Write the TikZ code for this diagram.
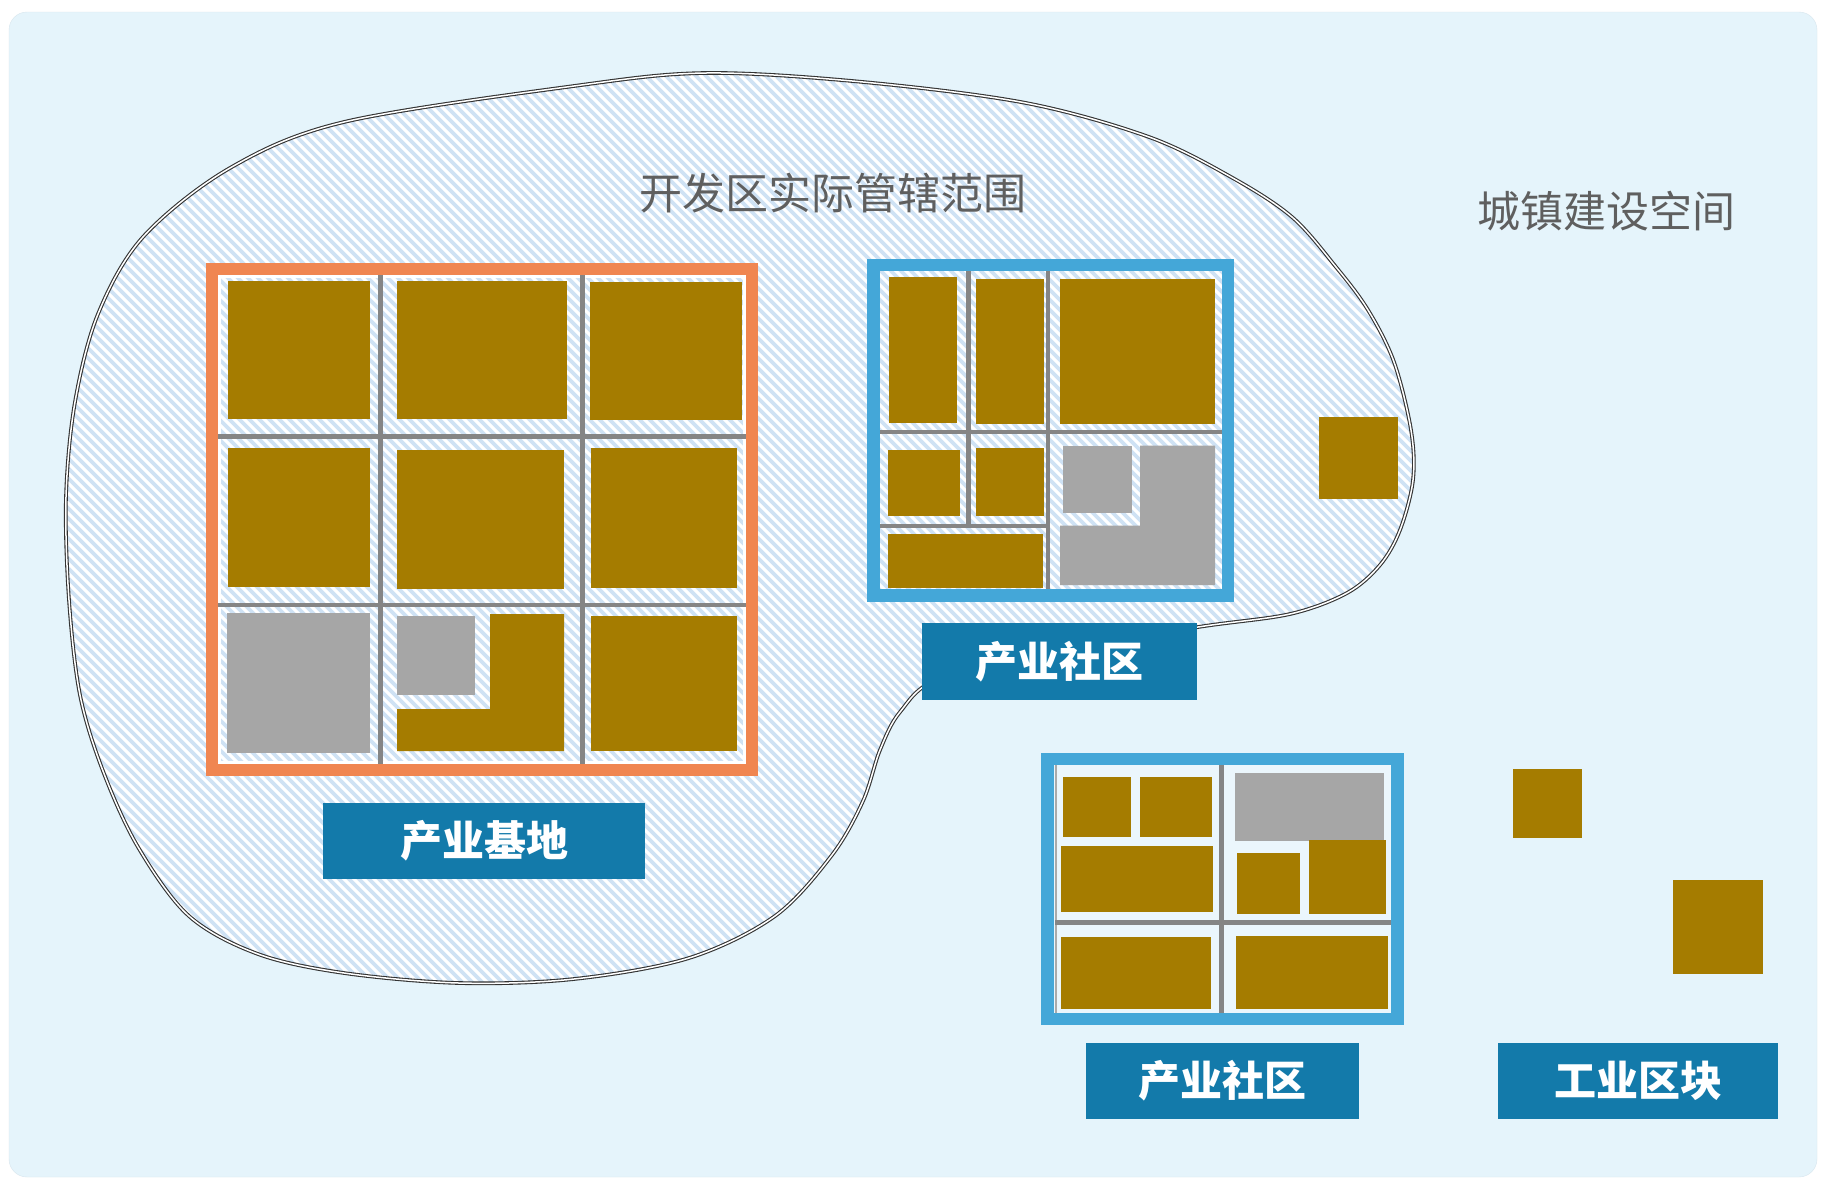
\documentclass[tikz,border=0pt]{standalone}
\usepackage{fontspec}
\newfontfamily\cjk{Noto Sans CJK SC}
\definecolor{bgc}{HTML}{E5F4FB}
\definecolor{bgedge}{HTML}{D8E6EE}
\definecolor{goldc}{HTML}{A57C00}
\definecolor{grayc}{HTML}{A6A6A6}
\definecolor{roadc}{HTML}{858585}
\definecolor{lblc}{HTML}{137AAA}
\definecolor{bluec}{HTML}{44A7D8}
\definecolor{orangec}{HTML}{F08651}
\definecolor{hatchc}{HTML}{CFE2F4}
\definecolor{ttlc}{HTML}{5F5F5F}
\definecolor{linec}{HTML}{333333}
\definecolor{in2c}{HTML}{EBF6FC}
\newcommand\blobpath{plot[smooth cycle, tension=0.55] coordinates {(706,73) (863,82) (1026,103) (1149,137) (1231,177) (1292,217) (1336,267) (1368,310) (1394,362) (1411,430) (1413,480) (1400,530) (1380,565) (1347,593) (1290,614) (1198,627) (1060,650) (940,678) (900,712) (880,750) (863,801) (832,855) (775,916) (689,958) (574,979) (459,983) (344,973) (258,954) (189,916) (138,847) (103,771) (80,695) (69,600) (66,497) (75,402) (98,314) (143,237) (230,168) (344,122) (574,86)}}
\begin{document}
\begin{tikzpicture}[x=1pt,y=-1pt,
  gold/.style={fill=goldc},
  grayb/.style={fill=grayc},
  road/.style={draw=roadc, line width=4.5pt},
  frameo/.style={draw=orangec, line width=12.5pt},
  frameb/.style={draw=bluec, line width=12.5pt},
  lbl/.style={fill=lblc, text=white, font=\cjk\bfseries\fontsize{42}{48}\selectfont, inner sep=0pt},
  ttl/.style={text=ttlc, font=\cjk\fontsize{43}{50}\selectfont, inner sep=0pt},
  outline/.style={draw=linec, line width=1.1pt, double=white, double distance=1.5pt}]
\useasboundingbox (0,0) rectangle (1821,1179);
\fill[white] (0,0) rectangle (1821,1179);
\draw[draw=bgedge, fill=bgc, rounded corners=18pt] (9,12) rectangle (1817,1177);
% development zone area
\fill[white] \blobpath;
\begin{scope}
  \clip \blobpath;
  \foreach \k in {-950,-940,...,1430} {\draw[hatchc, line width=3.8pt] (\k,50) -- ++(1000,1000);}
\end{scope}
\draw[outline] \blobpath;
% ---------- industrial base (orange) ----------
\draw[white, line width=3pt] (219.5,276.5) rectangle (744.5,762.5);
\draw[road] (380.6,275) -- (380.6,764);
\draw[road] (582.7,275) -- (582.7,764);
\draw[road] (218,436.3) -- (746,436.3);
\draw[road] (218,605) -- (746,605);
\fill[gold] (228,280.5) rectangle (370,419);
\fill[gold] (397,280.5) rectangle (567,419);
\fill[gold] (590,282) rectangle (742,420);
\fill[gold] (228,448) rectangle (370,587);
\fill[gold] (397,450) rectangle (564,589);
\fill[gold] (591,448) rectangle (737,588);
\fill[grayb] (227,612.5) rectangle (370,752.6);
\fill[grayb] (397,615.5) rectangle (475,695);
\fill[gold] (490,614) -- (564,614) -- (564,751) -- (397,751) -- (397,709) -- (490,709) -- cycle;
\fill[gold] (591,615.5) rectangle (737,751);
\draw[frameo] (211.75,268.75) rectangle (751.75,769.75);
% ---------- industrial community 1 ----------
\draw[road] (968.6,270) -- (968.6,526);
\draw[road] (1048,270) -- (1048,589);
\draw[road] (880,432) -- (1222,432);
\draw[road] (880,526) -- (1048,526);
\fill[gold] (889,277) rectangle (957,423);
\fill[gold] (976,278.6) rectangle (1044,423.8);
\fill[gold] (1060,278.6) rectangle (1215,423.8);
\fill[gold] (888,450) rectangle (960,516);
\fill[gold] (976,448) rectangle (1044,516);
\fill[gold] (888,534) rectangle (1043,588);
\fill[grayb] (1063,445.5) rectangle (1132,513);
\fill[grayb] (1140,445.5) -- (1215,445.5) -- (1215,585) -- (1060,585) -- (1060,525.5) -- (1140,525.5) -- cycle;
\draw[frameb] (873.25,264.85) rectangle (1227.75,595.35);
\fill[gold] (1319,417) rectangle (1398,499);
% ---------- industrial community 2 ----------
\fill[in2c] (1054,765) rectangle (1391,1013);
\draw[roadc!70, line width=2pt] (1055.5,765) -- (1055.5,1013);
\draw[road] (1221.5,765) -- (1221.5,1013);
\draw[road] (1055,922.7) -- (1391,922.7);
\fill[gold] (1063,777) rectangle (1131,837);
\fill[gold] (1140,777) rectangle (1212,837);
\fill[gold] (1061,846) rectangle (1213,912);
\fill[grayb] (1235,773) rectangle (1384,841);
\fill[gold] (1237,853) rectangle (1300,914);
\fill[gold] (1309,840) rectangle (1386,914);
\fill[gold] (1061,937) rectangle (1211,1009);
\fill[gold] (1236,936) rectangle (1388,1009);
\draw[frameb] (1047.5,759) rectangle (1397.5,1019);
% ---------- industrial plots ----------
\fill[gold] (1513,769) rectangle (1582,838);
\fill[gold] (1673,880) rectangle (1763,974);
% ---------- labels ----------
\node[lbl, minimum width=322pt, minimum height=76pt] (base) at (484,841) {产业基地};
\node[lbl, minimum width=275pt, minimum height=77pt] (comm1) at (1059.5,661.5) {产业社区};
\node[lbl, minimum width=273pt, minimum height=76pt] (comm2) at (1222.5,1081) {产业社区};
\node[lbl, minimum width=280pt, minimum height=76pt] (plots) at (1638,1081) {工业区块};
\node[ttl] (zone) at (832.5,193) {开发区实际管辖范围};
\node[ttl] (town) at (1606.5,211) {城镇建设空间};
\end{tikzpicture}
\end{document}
